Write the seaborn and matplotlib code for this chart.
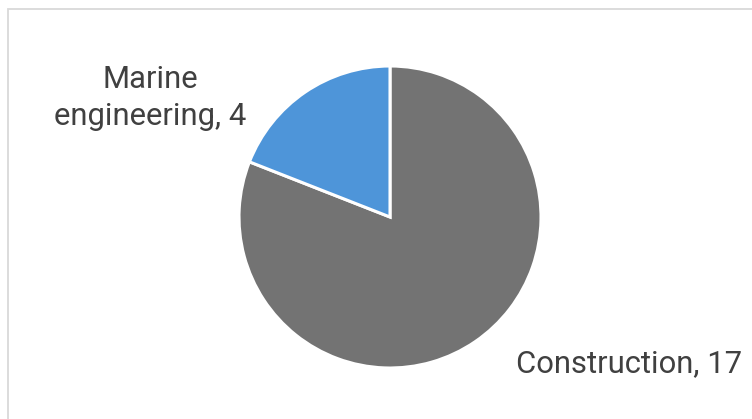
import matplotlib
matplotlib.use("Agg")
import matplotlib.pyplot as plt
import seaborn as sns

categories = ["Construction", "Marine engineering"]
values = [17, 4]
label_texts = ["Construction, 17", "Marine\nengineering, 4"]
colors = ["#737373", "#4E95D9"]

sns.set_theme(style="white")
plt.rcParams['font.family'] = ['Roboto', 'DejaVu Sans']

W, H = 752, 419
fig = plt.figure(figsize=(W / 100, H / 100), dpi=100)
fig.patch.set_facecolor("white")

# frame
frame = plt.Rectangle((8 / W, -0.1), 1.1, (H - 9.5) / H + 0.1, transform=fig.transFigure,
                      fill=False, edgecolor="#D9D9D9", linewidth=1.3)
fig.add_artist(frame)

cx, cy, r = 390, 217, 151
ax = fig.add_axes([(cx - r) / W, (H - cy - r) / H, 2 * r / W, 2 * r / H])
ax.pie(values, colors=colors, startangle=90, counterclock=False,
       wedgeprops=dict(edgecolor="white", linewidth=2.2), radius=1.0)
ax.set_xlim(-1, 1)
ax.set_ylim(-1, 1)
ax.set_aspect("equal")
ax.axis("off")

fs = 22.3
tcol = "#404040"
fig.text(629.5 / W, 1 - 372 / H, label_texts[0], ha="center", va="baseline",
         fontsize=fs, color=tcol)
lines = label_texts[1].split("\n")
fig.text(150 / W, 1 - 88 / H, lines[0], ha="center", va="baseline",
         fontsize=fs, color=tcol)
fig.text(150 / W, 1 - 125 / H, lines[1], ha="center", va="baseline",
         fontsize=fs, color=tcol)

fig.savefig("out.png", dpi=100)
